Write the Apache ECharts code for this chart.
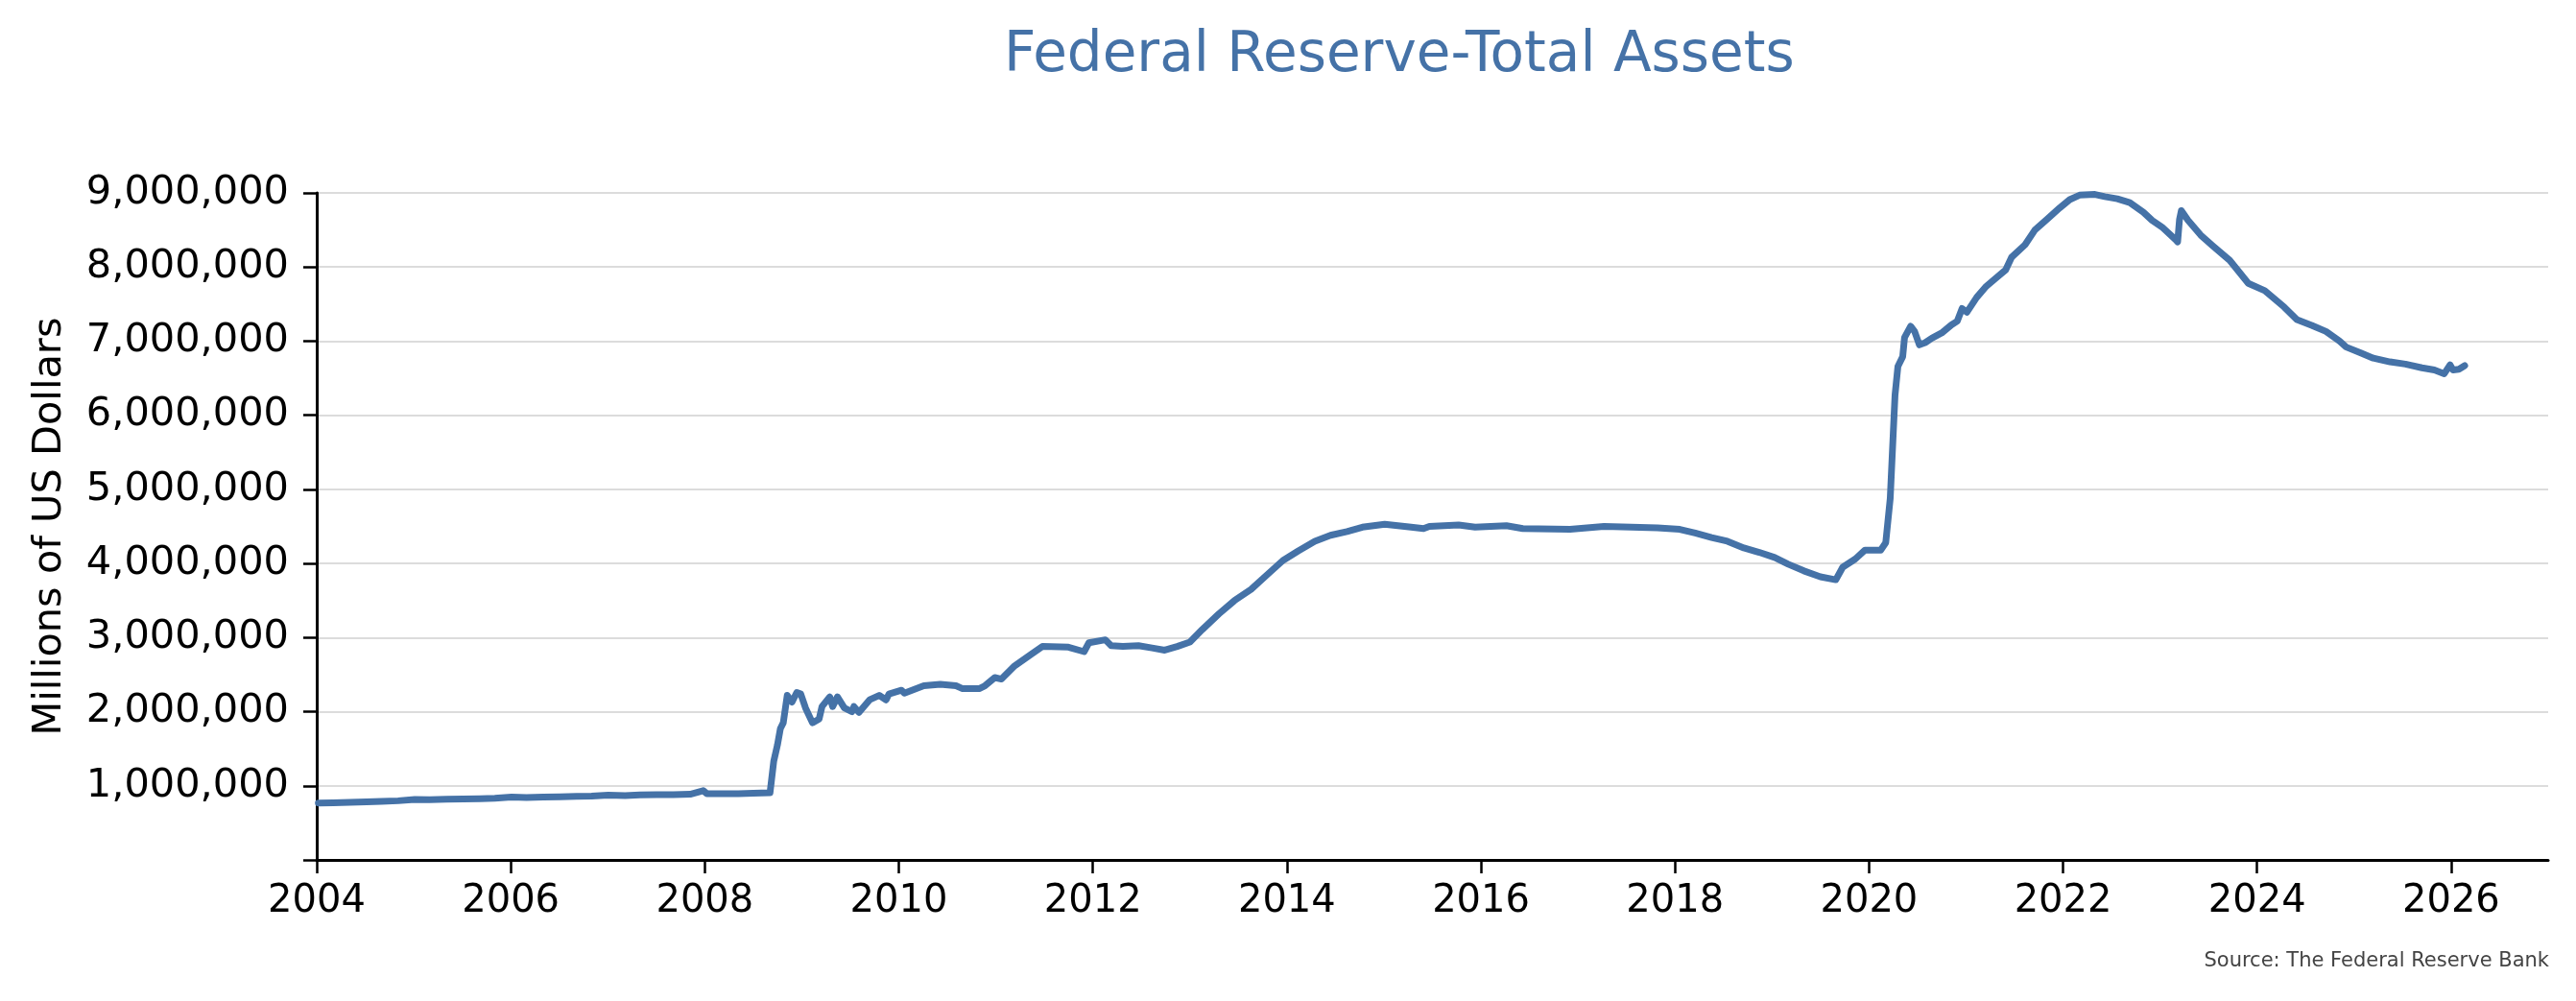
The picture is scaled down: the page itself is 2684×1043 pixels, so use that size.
<!DOCTYPE html>
<html>
<head>
<meta charset="utf-8">
<title>Federal Reserve-Total Assets</title>
<script src="https://cdn.jsdelivr.net/npm/echarts@6/dist/echarts.min.js"></script>
<style>
  html, body { margin: 0; padding: 0; background: #fff; }
  #main { width: 2684px; height: 1043px; }
</style>
</head>
<body>
<div id="main"></div>
<script>
// weekly Fed balance sheet (millions of USD)
var dates = [
  '2004-01-07', '2004-03-03', '2004-05-05', '2004-07-07', '2004-09-01', '2004-11-03',
  '2005-01-05', '2005-03-02', '2005-05-04', '2005-07-06', '2005-09-07', '2005-11-02',
  '2006-01-04', '2006-03-01', '2006-05-03', '2006-07-05', '2006-09-06', '2006-11-01',
  '2007-01-03', '2007-03-07', '2007-05-02', '2007-07-04', '2007-09-05', '2007-11-07',
  '2007-12-26', '2008-01-09', '2008-03-05', '2008-05-07', '2008-07-02', '2008-09-03',
  '2008-09-10', '2008-09-17', '2008-10-01', '2008-10-12', '2008-10-23', '2008-11-07',
  '2008-11-25', '2008-12-13', '2008-12-28', '2009-01-15', '2009-02-10', '2009-03-07',
  '2009-03-18', '2009-04-16', '2009-04-27', '2009-05-15', '2009-06-10', '2009-07-09',
  '2009-07-16', '2009-08-04', '2009-09-13', '2009-10-19', '2009-11-14', '2009-11-25',
  '2010-01-11', '2010-01-22', '2010-04-05', '2010-06-06', '2010-08-04', '2010-08-29',
  '2010-10-30', '2010-11-21', '2010-12-28', '2011-01-22', '2011-03-10', '2011-05-08',
  '2011-06-25', '2011-10-01', '2011-11-29', '2011-12-17', '2012-02-17', '2012-03-10',
  '2012-04-23', '2012-06-21', '2012-08-11', '2012-09-28', '2012-11-14', '2013-01-01',
  '2013-02-17', '2013-04-20', '2013-06-18', '2013-08-19', '2013-10-16', '2013-12-17',
  '2014-02-13', '2014-04-16', '2014-06-14', '2014-08-15', '2014-10-12', '2015-01-04',
  '2015-04-13', '2015-05-30', '2015-06-21', '2015-10-09', '2015-12-10', '2016-04-06',
  '2016-06-07', '2016-12-02', '2017-04-09', '2017-07-20', '2017-10-27', '2018-01-19',
  '2018-03-18', '2018-05-19', '2018-07-17', '2018-09-17', '2018-11-14', '2019-01-11',
  '2019-03-03', '2019-05-01', '2019-07-02', '2019-08-29', '2019-09-24', '2019-11-10',
  '2019-12-17', '2020-02-14', '2020-03-04', '2020-03-21', '2020-04-08', '2020-04-19',
  '2020-05-07', '2020-05-14', '2020-06-06', '2020-06-21', '2020-07-09', '2020-07-31',
  '2020-08-25', '2020-10-01', '2020-11-07', '2020-11-29', '2020-12-17', '2021-01-04',
  '2021-02-10', '2021-03-18', '2021-04-23', '2021-05-30', '2021-06-21', '2021-08-11',
  '2021-09-17', '2021-11-03', '2021-12-20', '2022-01-26', '2022-03-04', '2022-05-01',
  '2022-06-07', '2022-07-24', '2022-09-09', '2022-10-30', '2022-12-02', '2023-01-08',
  '2023-02-28', '2023-03-08', '2023-03-15', '2023-03-22', '2023-04-16', '2023-06-03',
  '2023-07-20', '2023-09-20', '2023-11-29', '2024-01-30', '2024-04-12', '2024-05-30',
  '2024-07-27', '2024-09-17', '2024-11-07', '2024-12-02', '2025-01-26', '2025-03-14',
  '2025-05-16', '2025-07-13', '2025-09-13', '2025-10-30', '2025-12-06', '2025-12-28',
  '2026-01-08', '2026-01-30', '2026-02-21'
];
var totalAssets = [
  768000, 772000, 777000, 783000, 790000, 798000,
  815000, 812000, 818000, 823000, 827000, 833000,
  848000, 842000, 848000, 853000, 857000, 861000,
  873000, 869000, 876000, 881000, 880000, 886000,
  935000, 893000, 892000, 894000, 900000, 906000,
  910000, 1330000, 1550000, 1770000, 1850000, 2220000,
  2130000, 2260000, 2240000, 2050000, 1850000, 1900000,
  2070000, 2200000, 2070000, 2200000, 2050000, 2000000,
  2070000, 1990000, 2160000, 2220000, 2160000, 2240000,
  2290000, 2250000, 2350000, 2370000, 2350000, 2310000,
  2310000, 2350000, 2460000, 2440000, 2610000, 2760000,
  2880000, 2870000, 2810000, 2930000, 2970000, 2890000,
  2880000, 2890000, 2860000, 2830000, 2880000, 2940000,
  3110000, 3320000, 3500000, 3650000, 3840000, 4040000,
  4170000, 4300000, 4380000, 4430000, 4490000, 4530000,
  4490000, 4470000, 4500000, 4520000, 4490000, 4510000,
  4470000, 4460000, 4500000, 4490000, 4480000, 4460000,
  4410000, 4350000, 4300000, 4210000, 4150000, 4080000,
  3990000, 3900000, 3820000, 3780000, 3950000, 4060000,
  4180000, 4180000, 4280000, 4880000, 6270000, 6660000,
  6790000, 7050000, 7200000, 7130000, 6950000, 6980000,
  7040000, 7110000, 7220000, 7270000, 7440000, 7390000,
  7590000, 7740000, 7850000, 7960000, 8130000, 8300000,
  8500000, 8650000, 8800000, 8910000, 8970000, 8980000,
  8950000, 8920000, 8870000, 8740000, 8630000, 8540000,
  8370000, 8340000, 8640000, 8760000, 8630000, 8430000,
  8280000, 8090000, 7780000, 7680000, 7460000, 7290000,
  7210000, 7130000, 7000000, 6920000, 6840000, 6770000,
  6720000, 6690000, 6640000, 6610000, 6560000, 6680000,
  6610000, 6620000, 6670000
];
var yearTicks = [2004, 2006, 2008, 2010, 2012, 2014, 2016, 2018, 2020, 2022, 2024, 2026];

// date string -> fractional year, so a plain value axis can place it
function toYear(s) {
  var d = Date.UTC(+s.slice(0, 4), +s.slice(5, 7) - 1, +s.slice(8, 10));
  var y = +s.slice(0, 4);
  var start = Date.UTC(y, 0, 1);
  var end = Date.UTC(y + 1, 0, 1);
  return y + (d - start) / (end - start);
}

var seriesData = [];
for (var i = 0; i < dates.length; i++) {
  seriesData.push([toYear(dates[i]), totalAssets[i]]);
}

var myChart = echarts.init(document.getElementById('main'));

option = {
  animation: false,
  backgroundColor: '#ffffff',
  textStyle: {
    fontFamily: 'DejaVu Sans'
  },
  title: {
    text: 'Federal Reserve-Total Assets',
    left: 1041,
    top: 25,
    textStyle: {
      fontFamily: 'DejaVu Sans',
      fontSize: 58,
      fontWeight: 'normal',
      color: '#4572a7'
    }
  },
  grid: {
    left: 330,
    right: 29,
    top: 201,
    bottom: 147
  },
  xAxis: {
    type: 'value',
    min: 2004,
    max: 2027,
    axisLine: {
      show: true,
      lineStyle: { color: '#000', width: 3 }
    },
    axisTick: {
      show: true,
      length: 14,
      customValues: yearTicks,
      lineStyle: { color: '#000', width: 2.5 }
    },
    axisLabel: {
      customValues: yearTicks,
      margin: 24,
      fontSize: 40,
      color: '#000',
      formatter: function (v) {
        return String(v);
      }
    },
    splitLine: { show: false }
  },
  yAxis: {
    type: 'value',
    min: 0,
    max: 9000000,
    interval: 1000000,
    name: 'Millions of US Dollars',
    nameLocation: 'middle',
    nameGap: 257,
    nameTextStyle: {
      fontSize: 41.5,
      color: '#000'
    },
    axisLine: {
      show: true,
      lineStyle: { color: '#000', width: 3 }
    },
    axisTick: {
      show: true,
      length: 14,
      lineStyle: { color: '#000', width: 2.5 }
    },
    axisLabel: {
      margin: 29,
      fontSize: 41.5,
      color: '#000',
      formatter: function (v) {
        return v === 0 ? '' : v.toLocaleString('en-US');
      }
    },
    splitLine: {
      show: true,
      lineStyle: { color: '#dcdcdc', width: 2 }
    }
  },
  graphic: [
    {
      type: 'text',
      right: 28,
      top: 991,
      style: {
        text: 'Source: The Federal Reserve Bank',
        fontFamily: 'DejaVu Sans',
        fontSize: 21,
        fill: '#444'
      }
    }
  ],
  series: [
    {
      name: 'Total Assets',
      type: 'line',
      data: seriesData,
      showSymbol: false,
      smooth: false,
      lineStyle: { color: '#4572a7', width: 7, join: 'round', cap: 'round' },
      itemStyle: { color: '#4572a7' }
    }
  ]
};

myChart.setOption(option);
</script>
</body>
</html>
